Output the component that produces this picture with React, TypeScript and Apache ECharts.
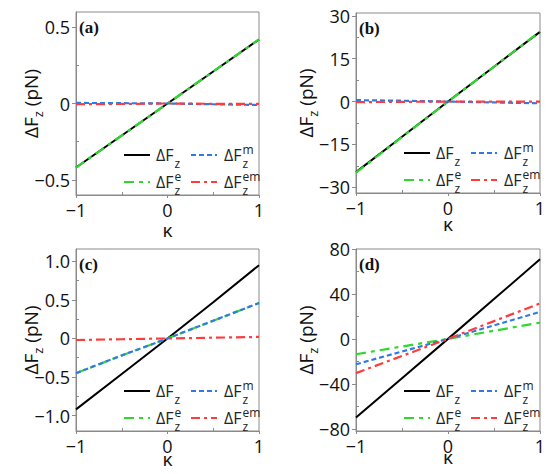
import React, { useEffect, useRef } from "react";
import * as echarts from "echarts";

// κ sample points
const KAPPA = [-1, -0.5, 0, 0.5, 1];

// Panel (a)
const A_TOTAL = [-0.42, -0.21, 0, 0.21, 0.42];
const A_E = [-0.42, -0.21, 0, 0.21, 0.42];
const A_M = [0.004, 0.002, 0, -0.005, -0.01];
const A_EM = [-0.005, -0.003, 0, -0.002, -0.003];

// Panel (b)
const B_TOTAL = [-24.7, -12.3, 0, 12.2, 24.4];
const B_E = [-24.9, -12.4, 0, 12.2, 24.5];
const B_M = [0.5, 0.3, 0, -0.3, -0.6];
const B_EM = [-0.2, -0.1, 0, 0, 0];

// Panel (c)
const C_TOTAL = [-0.92, -0.46, 0, 0.47, 0.95];
const C_E = [-0.45, -0.22, 0, 0.23, 0.46];
const C_M = [-0.45, -0.22, 0, 0.23, 0.46];
const C_EM = [-0.02, -0.01, 0, 0.01, 0.02];

// Panel (d)
const D_TOTAL = [-70, -35, 0, 35.4, 70.8];
const D_E = [-13.7, -6.8, 0, 7.2, 14.5];
const D_M = [-22.6, -11.3, 0, 12, 24];
const D_EM = [-30.5, -15.2, 0, 15.8, 31.6];

// Tick labels
const X_TICKS = [-1, 0, 1];
const X_MINOR = [-0.5, 0.5];
const A_YTICKS = [-0.5, 0, 0.5];
const A_YMINOR = [-0.25, 0.25];
const B_YTICKS = [-30, -15, 0, 15, 30];
const B_YMINOR = [-22.5, -7.5, 7.5, 22.5];
const C_YTICKS = [-1, -0.5, 0, 0.5, 1];
const C_YMINOR = [-0.75, -0.25, 0.25, 0.75];
const D_YTICKS = [-80, -40, 0, 40, 80];
const D_YMINOR = [-60, -20, 20, 60];

const LABELS = ["(a)", "(b)", "(c)", "(d)"];
// superscripts per series index: total, e, m, em
const SUP_BY_K = ["", "e", "m", "em"];
const SERIES_NAMES = ["ΔFz", "ΔFz^e", "ΔFz^m", "ΔFz^em"];

const BLACK = "#000000";
const GREEN = "#2fd82f";
const BLUE = "#2f7be3";
const RED = "#ff3c3c";
const AXIS = "#8a8a8a";
const FONT = '"Open Sans", "DejaVu Sans", sans-serif';

const PANELS = [
  {
    grid: { left: 76, top: 12, width: 183, height: 183 },
    ymin: -0.6, ymax: 0.6, ticks: A_YTICKS, minor: A_YMINOR, dec: 1,
    data: [A_TOTAL, A_E, A_M, A_EM], yGap: 32, xGap: 25,
  },
  {
    grid: { left: 356, top: 13, width: 184, height: 180 },
    ymin: -32, ymax: 31, ticks: B_YTICKS, minor: B_YMINOR, dec: 0,
    data: [B_TOTAL, B_E, B_M, B_EM], yGap: 37, xGap: 21,
  },
  {
    grid: { left: 76, top: 249, width: 183, height: 182 },
    ymin: -1.2, ymax: 1.16, ticks: C_YTICKS, minor: C_YMINOR, dec: 1,
    data: [C_TOTAL, C_E, C_M, C_EM], yGap: 32, xGap: 18,
  },
  {
    grid: { left: 356, top: 249, width: 184, height: 182 },
    ymin: -82, ymax: 80, ticks: D_YTICKS, minor: D_YMINOR, dec: 0,
    data: [D_TOTAL, D_E, D_M, D_EM], yGap: 37, xGap: 16,
  },
];

const STYLES = [
  { color: BLACK, type: "solid" as any, width: 2 },
  { color: GREEN, type: [10, 5, 4, 5], width: 2.2 },
  { color: BLUE, type: [5, 3], width: 2.2 },
  { color: RED, type: [9, 4, 3, 4], width: 2.2 },
];

const fmt = (dec: number) => (v: number) => {
  if (Math.abs(v) < 1e-9) return "0";
  return v.toFixed(dec).replace("-", "−");
};

function buildOption() {
  const grids: any[] = [];
  const xAxes: any[] = [];
  const yAxes: any[] = [];
  const series: any[] = [];
  const graphic: any[] = [];

  PANELS.forEach((p, i) => {
    grids.push({
      ...p.grid,
      show: true,
      borderColor: AXIS,
      borderWidth: 1,
      backgroundColor: "transparent",
    });
    xAxes.push({
      type: "value",
      gridIndex: i,
      min: -1,
      max: 1,
      interval: 1,
      name: "κ",
      nameLocation: "middle",
      nameGap: p.xGap,
      nameMoveOverlap: false,
      nameTextStyle: { fontFamily: FONT, fontSize: 19, color: "#111" },
      axisLine: { show: true, onZero: false, lineStyle: { color: AXIS, width: 1 } },
      axisTick: { show: true, inside: false, length: 3, lineStyle: { color: AXIS } },
      axisLabel: {
        margin: 6,
        fontFamily: FONT,
        fontSize: 18,
        color: "#111",
        customValues: X_TICKS,
        formatter: fmt(0),
      },
      splitLine: { show: false },
    });
    yAxes.push({
      type: "value",
      gridIndex: i,
      min: p.ymin,
      max: p.ymax,
      name: "ΔF{s|z} (pN)",
      nameLocation: "middle",
      nameGap: p.yGap,
      nameMoveOverlap: false,
      nameTextStyle: {
        fontFamily: FONT,
        fontSize: 19,
        color: "#111",
        lineHeight: 26,
        rich: {
          s: { fontFamily: FONT, fontSize: 13, lineHeight: 12, verticalAlign: "bottom", color: "#111" },
        },
      },
      axisLine: { show: true, onZero: false, lineStyle: { color: AXIS, width: 1 } },
      axisTick: {
        show: true,
        inside: false,
        length: 4,
        customValues: p.ticks,
        lineStyle: { color: AXIS },
      },
      axisLabel: {
        margin: 6,
        fontFamily: FONT,
        fontSize: 18,
        color: "#111",
        customValues: p.ticks,
        formatter: fmt(p.dec),
      },
      splitLine: { show: false },
    });
  });

  // minor inner ticks
  PANELS.forEach((p, i) => {
    xAxes.push({
      type: "value",
      gridIndex: i,
      min: -1,
      max: 1,
      position: "bottom",
      axisLine: { show: false, onZero: false },
      axisLabel: { show: false },
      axisTick: { show: true, inside: true, length: 3, customValues: X_MINOR, lineStyle: { color: AXIS } },
      splitLine: { show: false },
    });
    yAxes.push({
      type: "value",
      gridIndex: i,
      min: p.ymin,
      max: p.ymax,
      position: "left",
      axisLine: { show: false, onZero: false },
      axisLabel: { show: false },
      axisTick: { show: true, inside: true, length: 3, customValues: p.minor, lineStyle: { color: AXIS } },
      splitLine: { show: false },
    });
  });

  PANELS.forEach((p, i) => {
    p.data.forEach((vals, k) => {
      const st = STYLES[k];
      series.push({
        type: "line",
        name: SERIES_NAMES[k],
        xAxisIndex: i,
        yAxisIndex: i,
        data: KAPPA.map((x, j) => [x, vals[j]]),
        symbol: "none",
        showSymbol: false,
        silent: true,
        z: 2 + k,
        lineStyle: { color: st.color, type: st.type, width: st.width },
      });
    });

    const L = p.grid.left;
    const T = p.grid.top;
    const B = p.grid.top + p.grid.height;
    graphic.push({
      type: "text",
      x: L + 3,
      y: T + 15,
      style: {
        text: LABELS[i],
        font: 'bold 17px "Liberation Serif", "Times New Roman", serif',
        fill: "#111",
        verticalAlign: "middle",
      },
      z: 10,
    });

    // legend: order [total, m] / [e, em] in 2x2
    const items = [
      { k: 0, col: 0, row: 0 },
      { k: 2, col: 1, row: 0 },
      { k: 1, col: 0, row: 1 },
      { k: 3, col: 1, row: 1 },
    ];
    items.forEach((it) => {
      const st = STYLES[it.k];
      const y = it.row === 0 ? B - 40 : B - 13;
      const sx = it.col === 0 ? L + 48 : L + 115;
      const tx = it.col === 0 ? L + 80 : L + 148;
      graphic.push({
        type: "line",
        shape: { x1: sx, y1: y, x2: sx + 26, y2: y },
        style: {
          stroke: st.color,
          lineWidth: st.width,
          lineDash: Array.isArray(st.type) ? st.type : null,
        },
        z: 10,
      });
      graphic.push({
        type: "text",
        x: tx,
        y: y,
        style: { text: "ΔF", font: `16px ${FONT}`, fill: "#222", verticalAlign: "middle" },
        z: 10,
      });
      graphic.push({
        type: "text",
        x: tx + 18.5,
        y: y + 8,
        style: { text: "z", font: `12px ${FONT}`, fill: "#222", verticalAlign: "middle" },
        z: 10,
      });
      const sup = SUP_BY_K[it.k];
      if (sup) {
        graphic.push({
          type: "text",
          x: tx + 18.5,
          y: y - 5.5,
          style: { text: sup, font: `12px ${FONT}`, fill: "#222", verticalAlign: "middle" },
          z: 10,
        });
      }
    });
  });

  return {
    animation: false,
    backgroundColor: "#ffffff",
    grid: grids,
    xAxis: xAxes,
    yAxis: yAxes,
    series,
    graphic,
  };
}

export default function App() {
  const ref = useRef<HTMLDivElement>(null);
  useEffect(() => {
    if (!ref.current) return;
    const chart = echarts.init(ref.current, undefined, { renderer: "svg" });
    chart.setOption(buildOption() as any);
    return () => chart.dispose();
  }, []);
  return (
    <div
      ref={ref}
      style={{ position: "fixed", left: 0, top: 0, width: 550, height: 474, background: "#fff" }}
    />
  );
}
